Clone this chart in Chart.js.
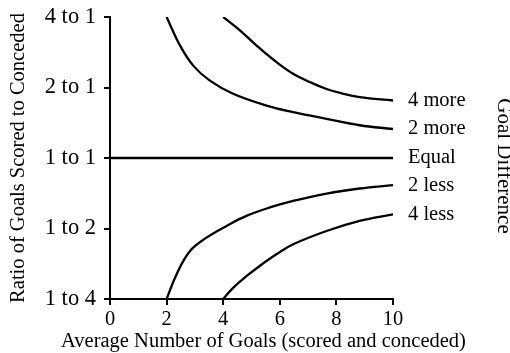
<!DOCTYPE html>
<html>
<head>
<meta charset="utf-8">
<script src="https://cdn.jsdelivr.net/npm/chart.js@4/dist/chart.umd.min.js"></script>
<style>
  html, body { margin: 0; padding: 0; background: #fff; }
  #wrap { width: 510px; height: 353px; }
</style>
</head>
<body>
<div id="wrap"><canvas id="c" width="510" height="353"></canvas></div>
<script>
// ---- data ----
const seriesNames = ['4 more', '2 more', 'Equal', '2 less', '4 less'];

const more4X = [4.0, 4.59, 5.18, 5.88, 6.47, 7.06, 7.65, 8.24, 8.82, 10];
const more4Y = [4.0, 3.51, 3.02, 2.57, 2.29, 2.11, 1.97, 1.88, 1.82, 1.76];

const more2X = [2.0, 2.47, 2.94, 3.53, 4.35, 5.53, 6.47, 7.65, 8.82, 10];
const more2Y = [4.0, 3.03, 2.48, 2.14, 1.88, 1.675, 1.57, 1.47, 1.38, 1.33];

const equalX = [0, 10];
const equalY = [1, 1];

const less2X = [2.0, 2.35, 2.82, 3.41, 4.12, 4.82, 5.65, 6.47, 7.65, 8.82, 10];
const less2Y = [0.25, 0.318, 0.40, 0.457, 0.513, 0.566, 0.615, 0.656, 0.705, 0.741, 0.766];

const less4X = [4.0, 4.35, 4.82, 5.29, 5.88, 6.47, 7.65, 8.82, 10];
const less4Y = [0.25, 0.279, 0.313, 0.346, 0.388, 0.428, 0.488, 0.539, 0.575];

const yTickValues = [0.25, 0.5, 1, 2, 4];
const yTickLabels = ['1 to 4', '1 to 2', '1 to 1', '2 to 1', '4 to 1'];
const xTickValues = [0, 2, 4, 6, 8, 10];

const xTitle = 'Average Number of Goals (scored and conceded)';
const yTitle = 'Ratio of Goals Scored to Conceded';
const rightTitle = 'Goal Difference';

// ---- build ----
const FONT = "'Liberation Serif', 'Times New Roman', serif";
function pts(xs, ys) { return xs.map((x, i) => ({ x: x, y: ys[i] })); }
const allX = [more4X, more2X, equalX, less2X, less4X];
const allY = [more4Y, more2Y, equalY, less2Y, less4Y];

const datasets = seriesNames.map((name, i) => ({
  label: name,
  data: pts(allX[i], allY[i]),
  borderColor: '#000',
  borderWidth: 2.3,
  pointRadius: 0,
  showLine: true,
  fill: false,
  tension: 0.4
}));

const textLayer = {
  id: 'textLayer',
  afterDatasetsDraw(chart) {
    const ctx = chart.ctx;
    const xs = chart.scales.x, ys = chart.scales.y;
    const ca = chart.chartArea;
    ctx.save();
    ctx.fillStyle = '#000';
    ctx.font = '20.5px ' + FONT;
    ctx.textAlign = 'left';
    ctx.textBaseline = 'middle';
    chart.data.datasets.forEach(ds => {
      const last = ds.data[ds.data.length - 1];
      ctx.fillText(ds.label, xs.getPixelForValue(last.x) + 15, ys.getPixelForValue(last.y));
    });
    // x-axis title (drawn here so it is not squeezed to the axis width)
    ctx.textAlign = 'center';
    ctx.fillText(xTitle, (ca.left + ca.right) / 2 + 12, 342);
    // right-hand title
    ctx.font = '21px ' + FONT;
    ctx.translate(504, 166);
    ctx.rotate(Math.PI / 2);
    ctx.fillText(rightTitle, 0, 0);
    ctx.restore();
  }
};

new Chart(document.getElementById('c'), {
  type: 'scatter',
  data: { datasets: datasets },
  options: {
    responsive: false,
    animation: false,
    devicePixelRatio: 1,
    layout: { padding: { top: 17, right: 117, left: 0, bottom: 0 } },
    plugins: { legend: { display: false }, tooltip: { enabled: false } },
    scales: {
      x: {
        type: 'linear', min: 0, max: 10,
        afterBuildTicks: s => { s.ticks = xTickValues.map(v => ({ value: v })); },
        afterFit: s => { s.height = 54; s.paddingLeft = 0; s.paddingRight = 0; },
        grid: { display: true, drawOnChartArea: false, drawTicks: true, tickLength: 6, color: '#000', lineWidth: 2 },
        border: { display: true, color: '#000', width: 2 },
        ticks: { color: '#000', font: { family: FONT, size: 20.5 }, padding: 2, maxRotation: 0 },
        title: { display: false }
      },
      y: {
        type: 'logarithmic', min: 0.25, max: 4,
        afterBuildTicks: s => { s.ticks = yTickValues.map(v => ({ value: v })); },
        afterFit: s => { s.width = 110; s.paddingTop = 0; s.paddingBottom = 0; },
        grid: { display: true, drawOnChartArea: false, drawTicks: true, tickLength: 6, color: '#000', lineWidth: 2 },
        border: { display: true, color: '#000', width: 2 },
        ticks: {
          color: '#000', font: { family: FONT, size: 22.5 }, padding: 8,
          callback: v => { const i = yTickValues.indexOf(v); return i >= 0 ? yTickLabels[i] : ''; }
        },
        title: { display: true, text: yTitle, color: '#000', font: { family: FONT, size: 20.5 }, padding: { top: 6, bottom: 0 } }
      }
    }
  },
  plugins: [textLayer]
});
</script>
</body>
</html>
